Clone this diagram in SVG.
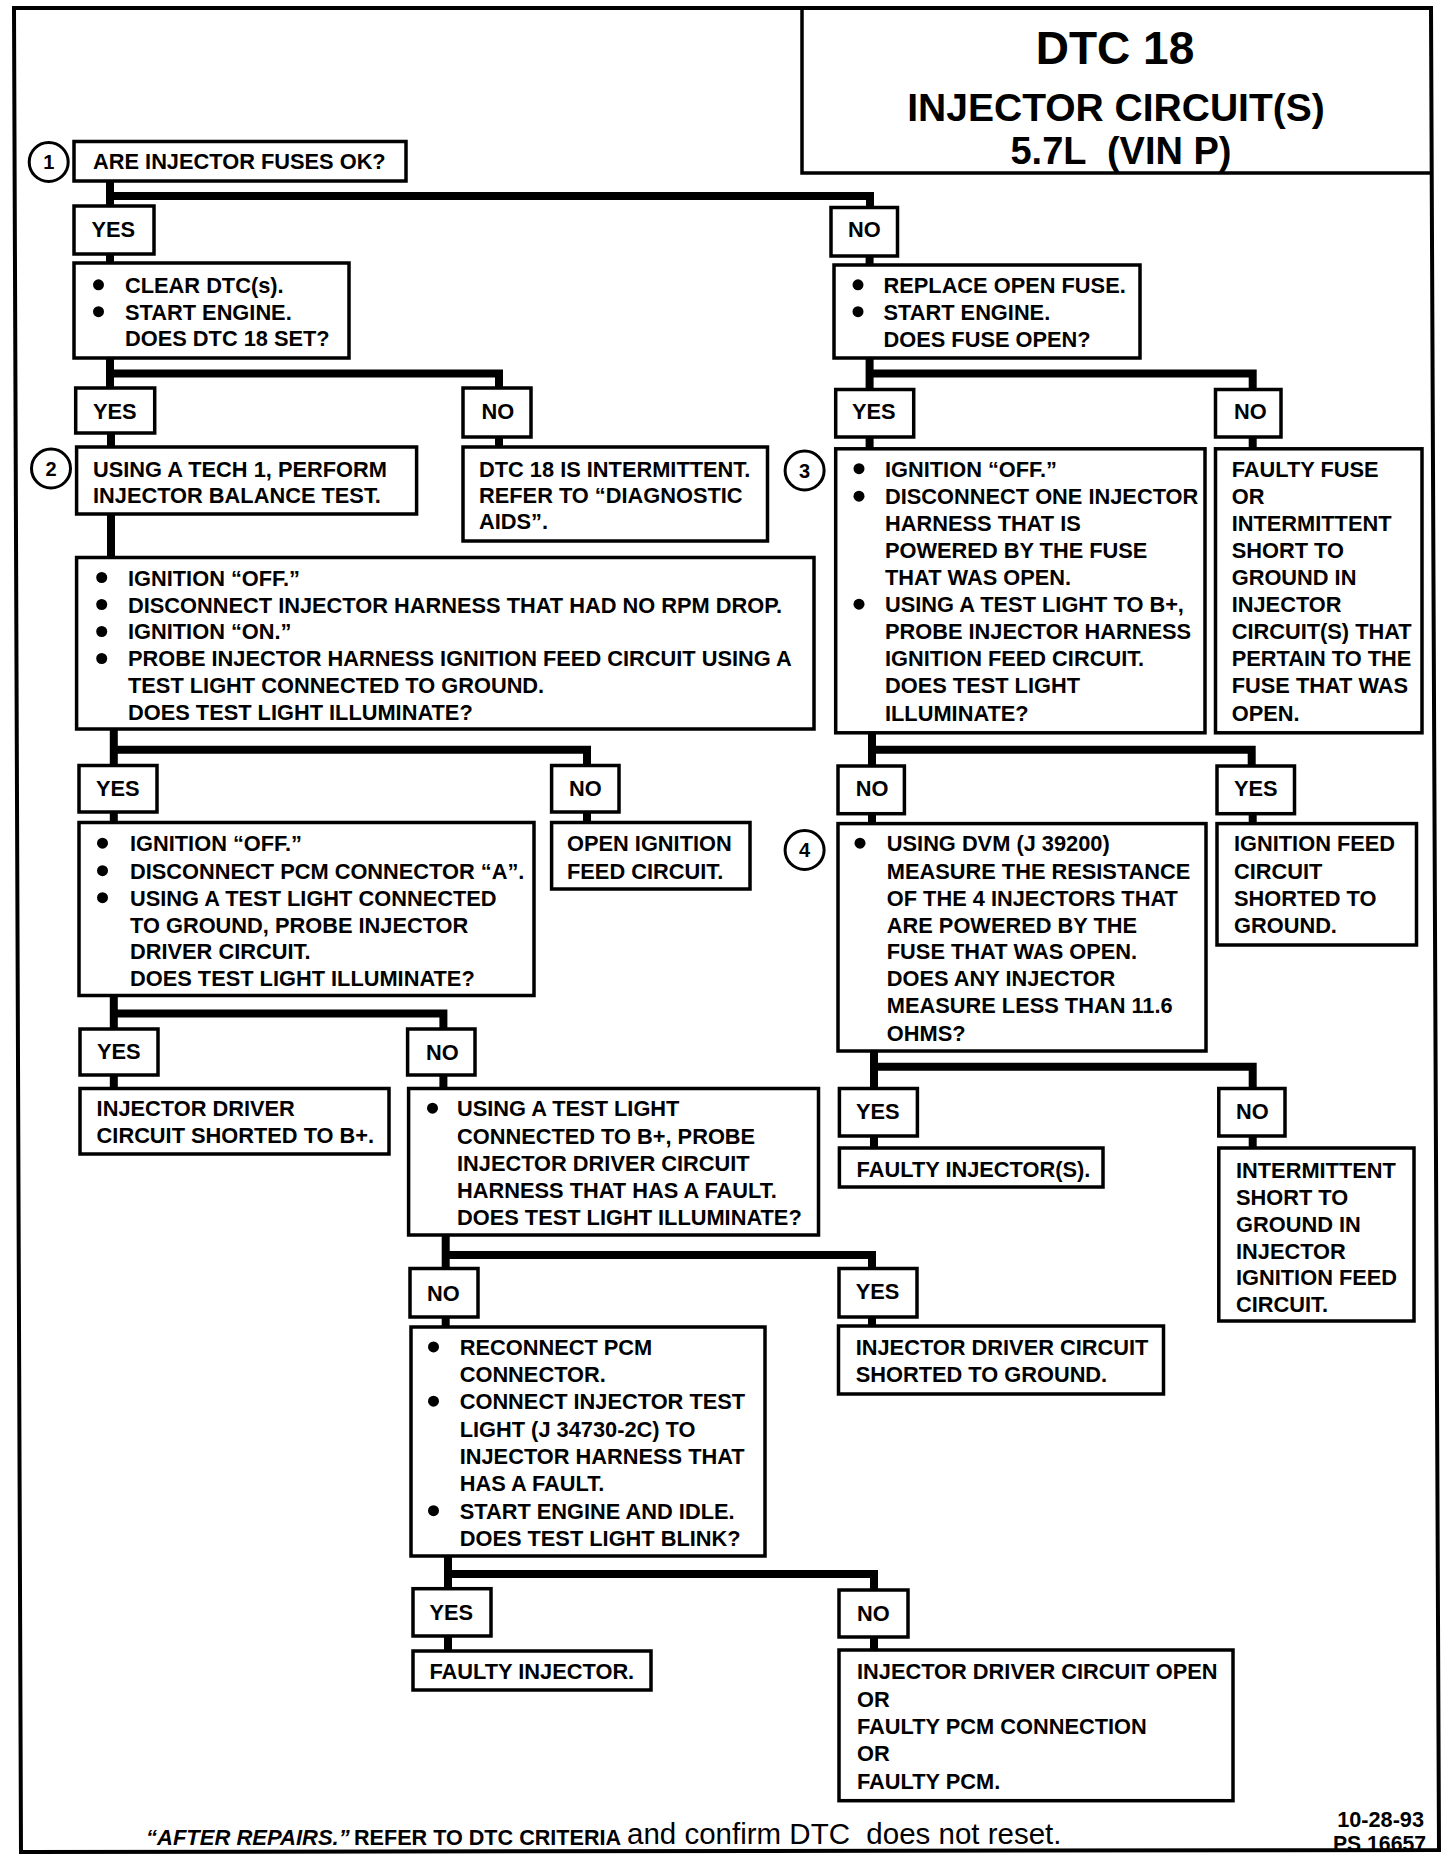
<svg xmlns="http://www.w3.org/2000/svg" width="1456" height="1860" viewBox="0 0 1456 1860">
<style>
.b{fill:#fff;stroke:#000;stroke-width:3.5}
.t{font-family:"Liberation Sans",Arial,sans-serif;font-weight:bold;font-size:21.8px;fill:#000}
.c{fill:none;stroke:#000;stroke-width:8}
.d{fill:#000}
.n{fill:#fff;stroke:#000;stroke-width:3}
.nt{font-family:"Liberation Sans",Arial,sans-serif;font-weight:bold;font-size:20px;fill:#000;text-anchor:middle}
</style>
<rect x="0" y="0" width="1456" height="1860" fill="#fff"/>
<g id="frame">
<polygon points="14,8 1431,8 1439,1850 21,1852" fill="none" stroke="#000" stroke-width="4"/>
<polyline points="802,8 802,173 1431,173" fill="none" stroke="#000" stroke-width="3.5"/>
</g>
<g id="title" font-family="'Liberation Sans',Arial,sans-serif" font-weight="bold" text-anchor="middle">
<text x="1115" y="64" font-size="46">DTC 18</text>
<text x="1116" y="121" font-size="39">INJECTOR CIRCUIT(S)</text>
<text x="1121" y="164" font-size="38" xml:space="preserve">5.7L  (VIN P)</text>
</g>
<g id="connectors">
<path class="c" d="M110,181V206M110,196H870V208"/>
<path class="c" d="M110,254V264"/>
<path class="c" d="M869.6,256V265"/>
<path class="c" d="M110,358V388M110,373.6H499V388"/>
<path class="c" d="M111,433V447"/>
<path class="c" d="M499,437V447"/>
<path class="c" d="M111,514V557.5"/>
<path class="c" d="M869.6,358V389.5M869.6,373.6H1252.7V389.5"/>
<path class="c" d="M869.6,437V449"/>
<path class="c" d="M1252.7,437V449"/>
<path class="c" d="M113.8,729V765.5M113.8,749.7H587V765.5"/>
<path class="c" d="M113.8,812V822.5"/>
<path class="c" d="M587,812V822.5"/>
<path class="c" d="M113.8,995.6V1029M113.8,1013.4H443.4V1029"/>
<path class="c" d="M113.8,1075V1088.5"/>
<path class="c" d="M443.4,1075V1088.5"/>
<path class="c" d="M445.7,1235V1268.5M445.7,1255H872V1268.5"/>
<path class="c" d="M445.7,1317V1327"/>
<path class="c" d="M872,1317V1326"/>
<path class="c" d="M448,1556V1589M448,1574H874V1590"/>
<path class="c" d="M448,1636V1651"/>
<path class="c" d="M874,1637V1650"/>
<path class="c" d="M872,732.7V766M872,749.7H1251.7V766"/>
<path class="c" d="M872,813.7V823.6"/>
<path class="c" d="M1252.7,813.7V823.6"/>
<path class="c" d="M874,1051V1088.5M874,1066.8H1252.7V1088.5"/>
<path class="c" d="M874,1136V1148"/>
<path class="c" d="M1252.7,1136V1148"/>
</g>
<g id="step1"><circle class="n" cx="48.7" cy="162" r="19.5"/><text class="nt" x="48.7" y="169">1</text></g>
<g id="step2"><circle class="n" cx="51" cy="468.5" r="19.5"/><text class="nt" x="51" y="475.5">2</text></g>
<g id="step3"><circle class="n" cx="804.6" cy="470.5" r="19.5"/><text class="nt" x="804.6" y="477.5">3</text></g>
<g id="step4"><circle class="n" cx="804.6" cy="850" r="19.5"/><text class="nt" x="804.6" y="857">4</text></g>

<g id="q1"><rect class="b" x="74" y="141.5" width="332" height="39.5"/><text class="t" x="93" y="169">ARE INJECTOR FUSES OK?</text></g>
<g id="yes1"><rect class="b" x="74" y="206" width="80" height="48"/><text class="t" x="91.5" y="237">YES</text></g>
<g id="no1"><rect class="b" x="831" y="207.5" width="66.5" height="48.5"/><text class="t" x="848" y="237">NO</text></g>

<g id="clear"><rect class="b" x="74" y="263" width="275" height="95"/>
<circle class="d" cx="98.5" cy="284.8" r="5.5"/><circle class="d" cx="98.5" cy="311.7" r="5.5"/>
<text class="t" x="125" y="292.6">CLEAR DTC(s).</text><text class="t" x="125" y="319.5">START ENGINE.</text><text class="t" x="125" y="346">DOES DTC 18 SET?</text></g>

<g id="replace"><rect class="b" x="834" y="265" width="306" height="93"/>
<circle class="d" cx="858" cy="284.8" r="5.5"/><circle class="d" cx="858" cy="311.7" r="5.5"/>
<text class="t" x="883.5" y="292.6">REPLACE OPEN FUSE.</text><text class="t" x="883.5" y="319.5">START ENGINE.</text><text class="t" x="883.5" y="347">DOES FUSE OPEN?</text></g>

<g id="yes2"><rect class="b" x="75.7" y="388" width="79" height="45"/><text class="t" x="93" y="419">YES</text></g>
<g id="no2"><rect class="b" x="463" y="388" width="68" height="49"/><text class="t" x="481.5" y="419">NO</text></g>
<g id="yes2r"><rect class="b" x="835.7" y="389.5" width="78" height="47.5"/><text class="t" x="852" y="419">YES</text></g>
<g id="no2r"><rect class="b" x="1215.5" y="389.5" width="65.5" height="47.5"/><text class="t" x="1234" y="419">NO</text></g>

<g id="tech1"><rect class="b" x="76.6" y="447" width="340" height="67"/>
<text class="t" x="93" y="476.5">USING A TECH 1, PERFORM</text><text class="t" x="93" y="503">INJECTOR BALANCE TEST.</text></g>

<g id="intermittent1"><rect class="b" x="463" y="447" width="304.5" height="94"/>
<text class="t" x="479" y="476.5">DTC 18 IS INTERMITTENT.</text><text class="t" x="479" y="503">REFER TO “DIAGNOSTIC</text><text class="t" x="479" y="529">AIDS”.</text></g>

<g id="ign3"><rect class="b" x="835.7" y="448.8" width="369.3" height="284"/>
<circle class="d" cx="859" cy="468.7" r="5.5"/><circle class="d" cx="859" cy="496.2" r="5.5"/><circle class="d" cx="859" cy="604.2" r="5.5"/>
<text class="t" x="885" y="476.5">IGNITION “OFF.”</text>
<text class="t" x="885" y="504">DISCONNECT ONE INJECTOR</text>
<text class="t" x="885" y="531">HARNESS THAT IS</text>
<text class="t" x="885" y="558">POWERED BY THE FUSE</text>
<text class="t" x="885" y="585">THAT WAS OPEN.</text>
<text class="t" x="885" y="612">USING A TEST LIGHT TO B+,</text>
<text class="t" x="885" y="638.5">PROBE INJECTOR HARNESS</text>
<text class="t" x="885" y="665.5">IGNITION FEED CIRCUIT.</text>
<text class="t" x="885" y="693">DOES TEST LIGHT</text>
<text class="t" x="885" y="720.5">ILLUMINATE?</text></g>

<g id="faultyfuse"><rect class="b" x="1215.5" y="448.8" width="206.5" height="284"/>
<text class="t" x="1231.7" y="476.5">FAULTY FUSE</text>
<text class="t" x="1231.7" y="504">OR</text>
<text class="t" x="1231.7" y="531">INTERMITTENT</text>
<text class="t" x="1231.7" y="558">SHORT TO</text>
<text class="t" x="1231.7" y="585">GROUND IN</text>
<text class="t" x="1231.7" y="612">INJECTOR</text>
<text class="t" x="1231.7" y="638.5">CIRCUIT(S) THAT</text>
<text class="t" x="1231.7" y="665.5">PERTAIN TO THE</text>
<text class="t" x="1231.7" y="693">FUSE THAT WAS</text>
<text class="t" x="1231.7" y="720.5">OPEN.</text></g>

<g id="probe"><rect class="b" x="76.6" y="557.5" width="737.4" height="171.5"/>
<circle class="d" cx="101.7" cy="577.5" r="5.5"/><circle class="d" cx="101.7" cy="604.5" r="5.5"/><circle class="d" cx="101.7" cy="631.5" r="5.5"/><circle class="d" cx="101.7" cy="658.5" r="5.5"/>
<text class="t" x="128" y="585.5">IGNITION “OFF.”</text>
<text class="t" x="128" y="612.5">DISCONNECT INJECTOR HARNESS THAT HAD NO RPM DROP.</text>
<text class="t" x="128" y="639">IGNITION “ON.”</text>
<text class="t" x="128" y="666">PROBE INJECTOR HARNESS IGNITION FEED CIRCUIT USING A</text>
<text class="t" x="128" y="693">TEST LIGHT CONNECTED TO GROUND.</text>
<text class="t" x="128" y="720">DOES TEST LIGHT ILLUMINATE?</text></g>

<g id="yes3"><rect class="b" x="79" y="765.5" width="78" height="46.5"/><text class="t" x="96" y="796">YES</text></g>
<g id="no3"><rect class="b" x="551.6" y="765.5" width="67.4" height="46.5"/><text class="t" x="569" y="796">NO</text></g>
<g id="no3r"><rect class="b" x="838" y="766" width="66.4" height="47.7"/><text class="t" x="855.7" y="796">NO</text></g>
<g id="yes3r"><rect class="b" x="1217" y="766" width="77.5" height="47.7"/><text class="t" x="1234" y="796">YES</text></g>

<g id="pcm"><rect class="b" x="79" y="822.5" width="455" height="173"/>
<circle class="d" cx="102.5" cy="843.2" r="5.5"/><circle class="d" cx="102.5" cy="870.7" r="5.5"/><circle class="d" cx="102.5" cy="897.7" r="5.5"/>
<text class="t" x="130" y="851">IGNITION “OFF.”</text>
<text class="t" x="130" y="878.5">DISCONNECT PCM CONNECTOR “A”.</text>
<text class="t" x="130" y="905.5">USING A TEST LIGHT CONNECTED</text>
<text class="t" x="130" y="932.5">TO GROUND, PROBE INJECTOR</text>
<text class="t" x="130" y="959">DRIVER CIRCUIT.</text>
<text class="t" x="130" y="986">DOES TEST LIGHT ILLUMINATE?</text></g>

<g id="openign"><rect class="b" x="551.6" y="822.5" width="198.4" height="66.5"/>
<text class="t" x="567" y="851">OPEN IGNITION</text><text class="t" x="567" y="878.5">FEED CIRCUIT.</text></g>

<g id="dvm"><rect class="b" x="838" y="823.6" width="368" height="227.4"/>
<circle class="d" cx="860" cy="843.2" r="5.5"/>
<text class="t" x="886.8" y="851">USING DVM (J 39200)</text>
<text class="t" x="886.8" y="878.5">MEASURE THE RESISTANCE</text>
<text class="t" x="886.8" y="905.5">OF THE 4 INJECTORS THAT</text>
<text class="t" x="886.8" y="932.5">ARE POWERED BY THE</text>
<text class="t" x="886.8" y="959">FUSE THAT WAS OPEN.</text>
<text class="t" x="886.8" y="986">DOES ANY INJECTOR</text>
<text class="t" x="886.8" y="1013.4">MEASURE LESS THAN 11.6</text>
<text class="t" x="886.8" y="1041">OHMS?</text></g>

<g id="feedshort"><rect class="b" x="1217" y="823.6" width="199.5" height="121.4"/>
<text class="t" x="1234" y="851">IGNITION FEED</text><text class="t" x="1234" y="878.5">CIRCUIT</text><text class="t" x="1234" y="905.5">SHORTED TO</text><text class="t" x="1234" y="932.5">GROUND.</text></g>

<g id="yes4"><rect class="b" x="80" y="1029" width="78" height="46"/><text class="t" x="97" y="1059">YES</text></g>
<g id="no4"><rect class="b" x="407.6" y="1029" width="67.4" height="46"/><text class="t" x="426" y="1060">NO</text></g>

<g id="shortb"><rect class="b" x="80" y="1088.5" width="309" height="65.5"/>
<text class="t" x="96.6" y="1116">INJECTOR DRIVER</text><text class="t" x="96.6" y="1142.7">CIRCUIT SHORTED TO B+.</text></g>

<g id="testb"><rect class="b" x="408.6" y="1088.5" width="409.9" height="146.5"/>
<circle class="d" cx="432.5" cy="1108.2" r="5.5"/>
<text class="t" x="457" y="1116">USING A TEST LIGHT</text>
<text class="t" x="457" y="1143.5">CONNECTED TO B+, PROBE</text>
<text class="t" x="457" y="1170.5">INJECTOR DRIVER CIRCUIT</text>
<text class="t" x="457" y="1197.5">HARNESS THAT HAS A FAULT.</text>
<text class="t" x="457" y="1225">DOES TEST LIGHT ILLUMINATE?</text></g>

<g id="yes4r"><rect class="b" x="839.4" y="1088.5" width="78" height="47.5"/><text class="t" x="856" y="1119">YES</text></g>
<g id="no4r"><rect class="b" x="1218.8" y="1088.5" width="66.2" height="47.5"/><text class="t" x="1236" y="1119">NO</text></g>
<g id="faultyinjs"><rect class="b" x="839.4" y="1148" width="263.6" height="39"/><text class="t" x="856.6" y="1176.7">FAULTY INJECTOR(S).</text></g>
<g id="intermittent2"><rect class="b" x="1218.8" y="1148" width="195.2" height="173"/>
<text class="t" x="1236" y="1177.5">INTERMITTENT</text>
<text class="t" x="1236" y="1204.5">SHORT TO</text>
<text class="t" x="1236" y="1231.5">GROUND IN</text>
<text class="t" x="1236" y="1258.5">INJECTOR</text>
<text class="t" x="1236" y="1285">IGNITION FEED</text>
<text class="t" x="1236" y="1312">CIRCUIT.</text></g>

<g id="no5"><rect class="b" x="410" y="1268.5" width="68" height="48.5"/><text class="t" x="427" y="1301">NO</text></g>
<g id="yes5"><rect class="b" x="839" y="1268.5" width="78" height="48.5"/><text class="t" x="855.7" y="1299">YES</text></g>

<g id="reconnect"><rect class="b" x="411" y="1327" width="354" height="229"/>
<circle class="d" cx="433.5" cy="1346.9" r="5.5"/><circle class="d" cx="433.5" cy="1401.2" r="5.5"/><circle class="d" cx="433.5" cy="1510.7" r="5.5"/>
<text class="t" x="459.7" y="1354.7">RECONNECT PCM</text>
<text class="t" x="459.7" y="1381.6">CONNECTOR.</text>
<text class="t" x="459.7" y="1409">CONNECT INJECTOR TEST</text>
<text class="t" x="459.7" y="1436.5">LIGHT (J 34730-2C) TO</text>
<text class="t" x="459.7" y="1464">INJECTOR HARNESS THAT</text>
<text class="t" x="459.7" y="1491">HAS A FAULT.</text>
<text class="t" x="459.7" y="1518.5">START ENGINE AND IDLE.</text>
<text class="t" x="459.7" y="1546">DOES TEST LIGHT BLINK?</text></g>

<g id="shortgnd"><rect class="b" x="838.5" y="1326" width="325" height="68"/>
<text class="t" x="855.7" y="1354.7">INJECTOR DRIVER CIRCUIT</text><text class="t" x="855.7" y="1381.6">SHORTED TO GROUND.</text></g>

<g id="yes6"><rect class="b" x="413" y="1588.7" width="78" height="47.3"/><text class="t" x="429.5" y="1619.6">YES</text></g>
<g id="no6"><rect class="b" x="839" y="1590" width="69" height="47"/><text class="t" x="857" y="1621">NO</text></g>
<g id="faultyinj"><rect class="b" x="413" y="1651" width="238" height="39"/><text class="t" x="429.5" y="1679">FAULTY INJECTOR.</text></g>
<g id="final"><rect class="b" x="839" y="1650" width="394" height="150.7"/>
<text class="t" x="857" y="1679">INJECTOR DRIVER CIRCUIT OPEN</text>
<text class="t" x="857" y="1706.6">OR</text>
<text class="t" x="857" y="1734">FAULTY PCM CONNECTION</text>
<text class="t" x="857" y="1761">OR</text>
<text class="t" x="857" y="1789">FAULTY PCM.</text></g>

<g id="footer" font-family="'Liberation Sans',Arial,sans-serif">
<text x="146" y="1845" font-size="22" font-weight="bold" font-style="italic">“AFTER REPAIRS.”</text>
<text x="354" y="1845" font-size="21.6" font-weight="bold">REFER TO DTC CRITERIA</text>
<text x="627" y="1844" font-size="29.5" xml:space="preserve">and confirm DTC  does not reset.</text>
<text x="1424" y="1827" font-size="21.7" font-weight="bold" text-anchor="end">10-28-93</text>
<text x="1426" y="1851" font-size="21.2" font-weight="bold" text-anchor="end">PS 16657</text>
</g>
</svg>
